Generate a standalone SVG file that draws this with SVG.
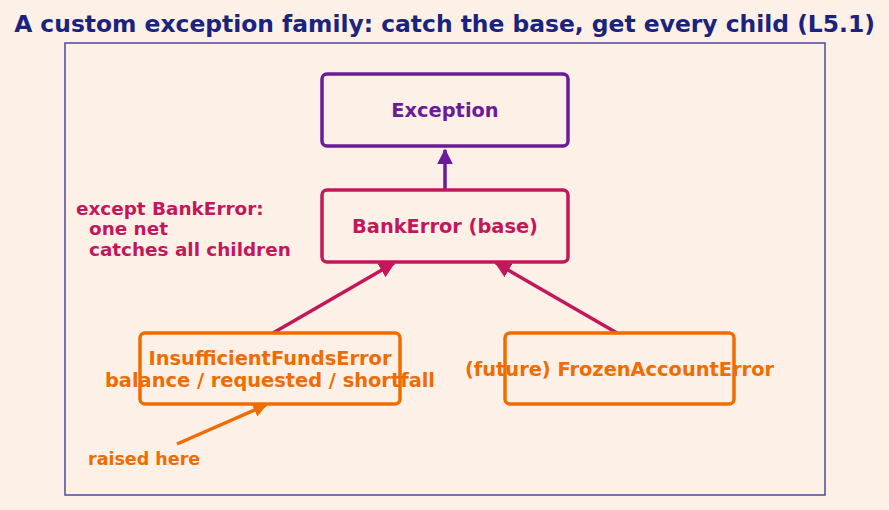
<svg xmlns="http://www.w3.org/2000/svg" width="889" height="510" viewBox="0 0 889 510">
<style>
text{font-family:"DejaVu Sans",sans-serif;font-weight:bold;text-anchor:middle}
.box{fill:none;stroke-width:3.5}
.edge{fill:none;stroke-width:3.5}
</style>
<defs>
<marker id="ap" viewBox="0 0 10 10" refX="9" refY="5" markerWidth="4.6" markerHeight="4.6" orient="auto" markerUnits="strokeWidth"><path d="M0,0 L10,5 L0,10 Z" fill="#6a1b9a"/></marker>
<marker id="am" viewBox="0 0 10 10" refX="9" refY="5" markerWidth="4.6" markerHeight="4.6" orient="auto" markerUnits="strokeWidth"><path d="M0,0 L10,5 L0,10 Z" fill="#c2185b"/></marker>
<marker id="ao" viewBox="0 0 10 10" refX="9" refY="5" markerWidth="4" markerHeight="4" orient="auto" markerUnits="strokeWidth"><path d="M0,0 L10,5 L0,10 Z" fill="#ef6c00"/></marker>
</defs>
<rect width="889" height="510" fill="#fdf0e6"/>
<text x="444.5" y="32" font-size="23.4" fill="#1a237e">A custom exception family: catch the base, get every child (L5.1)</text>
<rect x="65" y="43" width="760" height="452" fill="none" stroke="#4b4b9b" stroke-width="1.5"/>
<g id="connectors">
<line class="edge" x1="445" y1="190" x2="445" y2="150" stroke="#6a1b9a" marker-end="url(#ap)"/>
<line class="edge" x1="273" y1="333" x2="394" y2="263" stroke="#c2185b" marker-end="url(#am)"/>
<line class="edge" x1="617" y1="333" x2="496" y2="263" stroke="#c2185b" marker-end="url(#am)"/>
<line class="edge" x1="177" y1="444" x2="266" y2="405" stroke="#ef6c00" stroke-width="3" marker-end="url(#ao)"/>
</g>
<g id="exception">
<rect class="box" x="322" y="74" width="246" height="72" rx="5" stroke="#6a1b9a"/>
<text x="445" y="117" font-size="19.4" fill="#6a1b9a">Exception</text>
</g>
<g id="bankerror">
<rect class="box" x="322" y="190" width="246" height="72" rx="5" stroke="#c2185b"/>
<text x="445" y="233" font-size="19.4" fill="#c2185b">BankError (base)</text>
</g>
<g id="insufficient">
<rect class="box" x="140" y="333" width="260" height="71" rx="5" stroke="#ef6c00"/>
<text x="270" y="365" font-size="19.4" fill="#ef6c00">InsufficientFundsError</text>
<text x="270" y="387" font-size="19.4" fill="#ef6c00">balance / requested / shortfall</text>
</g>
<g id="frozen">
<rect class="box" x="505" y="333" width="229" height="71" rx="5" stroke="#ef6c00"/>
<text x="619.5" y="376" font-size="19.4" fill="#ef6c00">(future) FrozenAccountError</text>
</g>
<g id="note-except">
<text x="76" y="214.5" font-size="18.4" fill="#c2185b" style="text-anchor:start">except BankError:</text>
<text x="89" y="235" font-size="18.4" fill="#c2185b" style="text-anchor:start">one net</text>
<text x="89" y="255.5" font-size="18.4" fill="#c2185b" style="text-anchor:start">catches all children</text>
</g>
<g id="note-raised">
<text x="88" y="464.5" font-size="17.5" fill="#ef6c00" style="text-anchor:start">raised here</text>
</g>
</svg>
